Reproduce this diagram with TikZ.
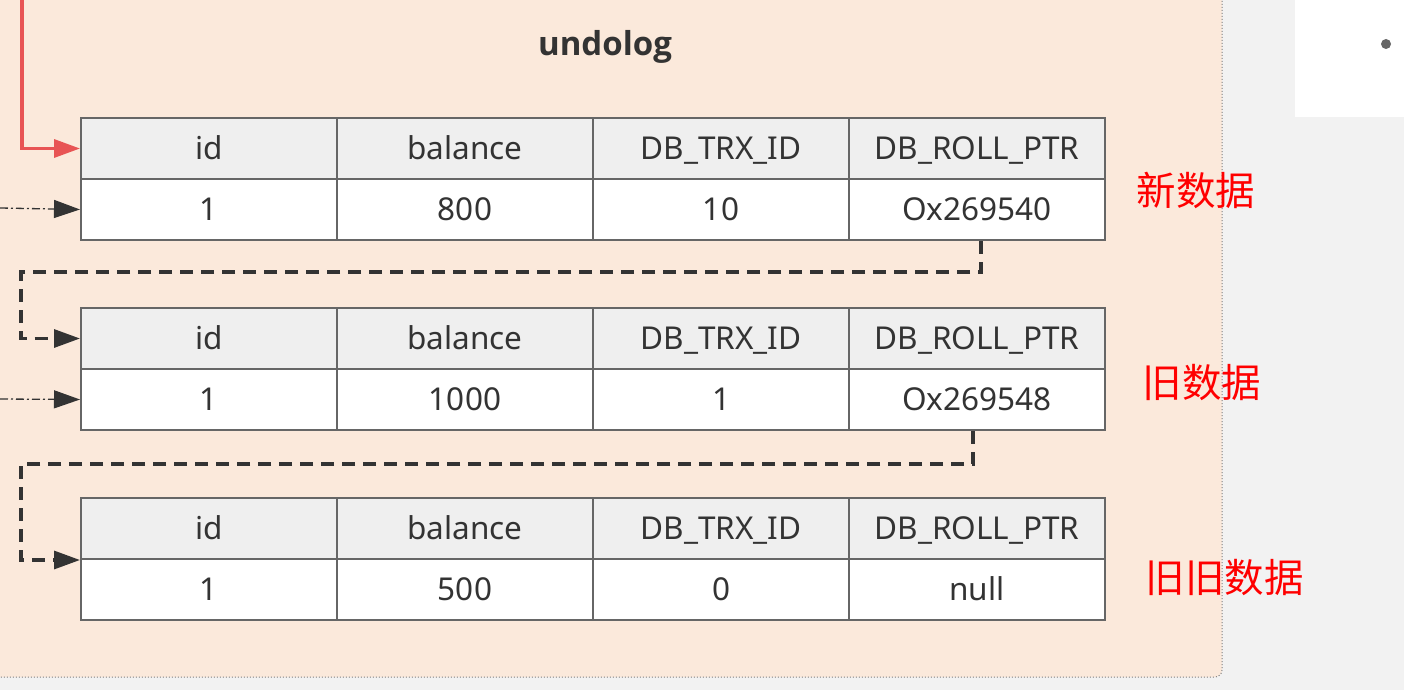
\documentclass[tikz,border=0pt]{standalone}
\usepackage{fontspec}
\setmainfont{Noto Sans}
\newfontfamily\titlefont{Open Sans}
\newfontfamily\cjk{Noto Sans CJK SC}
\usetikzlibrary{arrows.meta}
\definecolor{pagebg}{HTML}{F2F2F2}
\definecolor{panel}{HTML}{FBE9DB}
\definecolor{cellborder}{HTML}{666666}
\definecolor{headfill}{HTML}{EFEFEF}
\definecolor{txt}{HTML}{333333}
\definecolor{redline}{HTML}{E85454}
\definecolor{redtxt}{HTML}{FF0000}
\begin{document}
\begin{tikzpicture}[x=1pt,y=-1pt,
  headcell/.style={draw=cellborder,line width=2pt,fill=headfill,minimum width=256pt,minimum height=61pt,inner sep=0pt,text height=22pt,text depth=0pt,anchor=north west,font=\fontsize{31.5}{36}\selectfont,text=txt},
  datacell/.style={headcell,fill=white},
  link/.style={draw=txt,line width=3.2pt,dash pattern=on 13pt off 8pt,-{Triangle[length=26pt,width=18pt]}},
  ptr/.style={draw=black!45,line width=1.3pt,dash pattern=on 8pt off 3pt on 2pt off 3pt,-{Triangle[length=26pt,width=18pt,fill=txt]},txt},
  entry/.style={draw=redline,line width=3.4pt,-{Triangle[length=26pt,width=18pt]}},
  tag/.style={font=\cjk\fontsize{39.5}{46}\selectfont,text=redtxt,anchor=west}]
% page and panel
\fill[pagebg] (0,0) rectangle (1404,690);
\useasboundingbox (0,0) rectangle (1404,690);
\fill[panel,rounded corners=7pt] (-20,-20) rectangle (1222,677);
\draw[black!50,line width=1pt,dotted,rounded corners=7pt] (1222,-20) -- (1222,677) -- (-20,677);
\fill[white] (1295,0) rectangle (1404,117);
\fill[black!60] (1386,44) circle (5pt);
\node[font=\titlefont\bfseries\fontsize{33}{40}\selectfont,text=txt] (title) at (605,47) {undolog};
% three versions of the row
\foreach \r/\y/\a/\b/\c/\d in {a/117/800/10/Ox269540, b/307/1000/1/Ox269548, c/497/500/0/null}{
  \node[headcell] (\r h1) at (80,\y) {id};
  \node[headcell] (\r h2) at (336,\y) {balance};
  \node[headcell] (\r h3) at (592,\y) {DB\_TRX\_ID};
  \node[headcell] (\r h4) at (848,\y) {DB\_ROLL\_PTR};
  \node[datacell] (\r d1) at (80,\y+61) {1};
  \node[datacell] (\r d2) at (336,\y+61) {\a};
  \node[datacell] (\r d3) at (592,\y+61) {\b};
  \node[datacell] (\r d4) at (848,\y+61) {\c};
}
\node[tag] (newtag) at (1133,190) {新数据};
\node[tag] (oldtag) at (1139,383) {旧数据};
\node[tag] (oldertag) at (1142,578) {旧旧数据};
% incoming pointers
\coordinate (redsrc) at (22,-2);
\coordinate (ptra) at (0,208);
\coordinate (ptrb) at (0,399);
\draw[entry] (redsrc) |- (ah1.west);
\draw[ptr] (ptra) -- (ad1.west);
\draw[ptr] (ptrb) -- (bd1.west);
% roll pointer chain
\draw[link] ([xshift=4pt]ad4.south) -- ++(0,31) -| ++(-960,0) |- (bh1.west);
\draw[link] ([xshift=-4pt]bd4.south) -- ++(0,33) -| ++(-952,0) |- (ch1.south west);
\end{tikzpicture}
\end{document}
